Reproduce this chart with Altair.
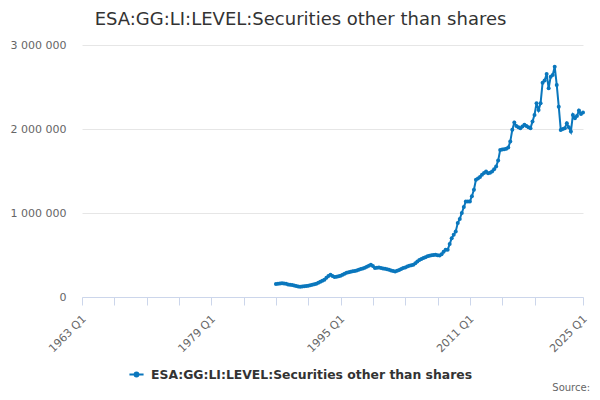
import pandas as pd
import altair as alt

# Series name and colour
series_name = "ESA:GG:LI:LEVEL:Securities other than shares"
line_color = "#0a77bd"

# Quarterly values (thousands), 1987 Q1 .. 2025 Q1
first_year = 1987
values_k = [
    155, 158, 162, 164,      # 1987
    162, 157, 150, 146,      # 1988
    143, 138, 132, 126,      # 1989
    122, 124, 128, 132,      # 1990
    134, 140, 146, 152,      # 1991
    158, 170, 182, 194,      # 1992
    206, 228, 250, 265,      # 1993
    250, 238, 240, 246,      # 1994
    253, 265, 278, 290,      # 1995
    295, 300, 306, 311,      # 1996
    316, 324, 333, 338,      # 1997
    348, 360, 372, 384,      # 1998
    368, 345, 348, 350,      # 1999
    345, 340, 336, 330,      # 2000
    324, 316, 310, 304,      # 2001
    312, 322, 334, 345,      # 2002
    352, 362, 372, 378,      # 2003
    384, 402, 422, 440,      # 2004
    452, 464, 474, 484,      # 2005
    490, 496, 500, 503,      # 2006
    498, 495, 510, 540,      # 2007
    562, 562, 630, 700,      # 2008
    740, 780, 880, 930,      # 2009
    1000, 1070, 1137, 1137,  # 2010
    1137, 1200, 1276, 1395,  # 2011
    1410, 1430, 1454, 1475,  # 2012
    1493, 1474, 1480, 1493,  # 2013
    1520, 1553, 1624, 1750,  # 2014
    1755, 1760, 1765, 1780,  # 2015
    1850, 1990, 2076, 2037,  # 2016
    2020, 2010, 2030, 2050,  # 2017
    2037, 2020, 2010, 2088,  # 2018
    2168, 2307, 2227, 2307,  # 2019
    2552, 2576, 2655, 2485,  # 2020
    2623, 2643, 2742, 2524,  # 2021
    2266, 1989, 2000, 2010,  # 2022
    2069, 2020, 1969, 2168,  # 2023
    2128, 2156, 2219, 2180,  # 2024
    2195,                    # 2025
]

# Axis ticks: every 4 years from 1963, plus the end of the axis
tick_years = list(range(1963, 2020, 4)) + [2025]

rows = []
for i, v in enumerate(values_k):
    year = first_year + i // 4
    q = i % 4 + 1
    rows.append({
        "t": year + (q - 1) / 4,
        "period": f"{year} Q{q}",
        "value": v * 1000,
        "series": series_name,
    })
df = pd.DataFrame(rows)

legend_symbol = ("M-1,0L1,0M-0.27,0A0.27,0.27,0,1,0,0.27,0"
                 "A0.27,0.27,0,1,0,-0.27,0Z")

line = alt.Chart(df).mark_line(
    strokeWidth=2,
    point=alt.OverlayMarkDef(filled=True, size=16),
).encode(
    x=alt.X("t:Q", title=None,
            scale=alt.Scale(domain=[1963, 2025], nice=False, zero=False),
            axis=alt.Axis(
                values=tick_years,
                labelExpr="((datum.value - 1963) % 16 == 0 || datum.value == 2025) ? datum.value + ' Q1' : ''",
                labelAngle=-45, labelAlign="right", labelBaseline="middle",
                labelPadding=12, labelOffset=2, labelFontSize=11,
                labelColor="#666666",
                labelOverlap=False, labelFlush=False,
                tickSize=8, tickColor="#ccd6eb", domainColor="#ccd6eb",
                grid=False)),
    y=alt.Y("value:Q", title=None,
            scale=alt.Scale(domain=[0, 3000000], nice=False),
            axis=alt.Axis(
                values=[0, 1000000, 2000000, 3000000],
                labelExpr="replace(format(datum.value, ','), regexp(',', 'g'), ' ')",
                labelFontSize=11, labelColor="#666666", labelPadding=16,
                ticks=False, domain=False, gridColor="#e6e6e6")),
    color=alt.Color("series:N", title=None,
                    scale=alt.Scale(domain=[series_name], range=[line_color]),
                    legend=alt.Legend(
                        orient="none", legendX=46, legendY=321,
                        symbolType=legend_symbol, symbolSize=200,
                        symbolStrokeWidth=2, symbolFillColor=line_color,
                        labelFontSize=12.4, labelFontWeight="bold",
                        labelColor="#333333", labelOffset=6,
                        padding=0, labelLimit=500)),
)

source = alt.Chart(pd.DataFrame({"txt": ["Source:"]})).mark_text(
    align="right", baseline="middle", fontSize=10, color="#666666"
).encode(
    text="txt:N",
    x=alt.value(508),
    y=alt.value(343),
)

chart = alt.layer(line, source).properties(
    width=501,
    height=252,
    autosize=alt.AutoSizeParams(type="none"),
    padding={"left": 74, "top": 37, "right": 9, "bottom": 99},
    title=alt.TitleParams(
        series_name, anchor="middle", dx=-32, offset=10,
        fontSize=18, fontWeight="normal", color="#333333"),
).configure(
    font="DejaVu Sans",
).configure_view(
    stroke=None,
)

chart.save("out.html", embed_options={"renderer": "svg", "actions": False})
